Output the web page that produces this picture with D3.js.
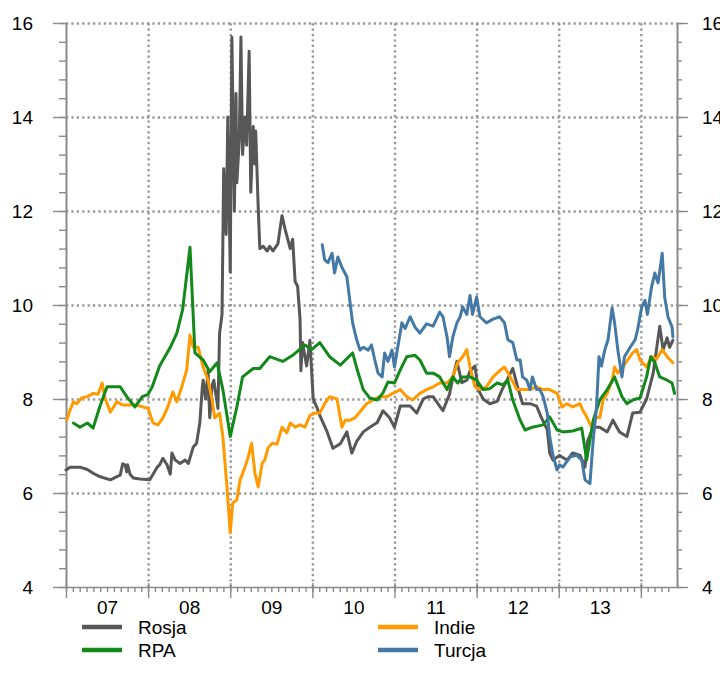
<!DOCTYPE html>
<html><head><meta charset="utf-8">
<script src="https://cdn.jsdelivr.net/npm/d3@7"></script>
<style>
body{margin:0;background:#fff;}
svg{display:block;font-family:"Liberation Sans",Arial,sans-serif;}
</style></head><body>
<svg id="c" width="720" height="680"></svg>
<script>
// ---- data ----
const yearLabels = ["07","08","09","10","11","12","13"];
const yTicks = [4,6,8,10,12,14,16];
const seriesNames = ["Rosja","RPA","Indie","Turcja"];
const seriesColors = ["#575757","#12891a","#ff9a00","#4479a6"];

const rosjaDates = [
2007.00,2007.05,2007.17,2007.26,2007.33,2007.41,2007.54,2007.62,2007.66,2007.69,
2007.72,2007.74,2007.75,2007.78,2007.82,2007.90,2008.02,2008.06,2008.11,2008.14,
2008.18,2008.23,2008.27,2008.29,2008.33,2008.39,2008.45,2008.49,2008.55,2008.59,
2008.63,2008.66,2008.67,2008.70,2008.73,2008.75,2008.78,2008.80,2008.85,2008.87,
2008.90,2008.92,2008.95,2008.97,2009.00,2009.02,2009.05,2009.07,2009.08,2009.11,
2009.13,2009.15,2009.18,2009.20,2009.23,2009.25,2009.28,2009.30,2009.31,2009.34,
2009.36,2009.40,2009.45,2009.48,2009.52,2009.58,2009.63,2009.67,2009.70,2009.73,
2009.76,2009.79,2009.82,2009.85,2009.86,2009.88,2009.93,2009.97,2010.01,2010.06,
2010.09,2010.18,2010.25,2010.34,2010.42,2010.48,2010.54,2010.62,2010.70,2010.79,
2010.86,2010.94,2011.00,2011.07,2011.19,2011.27,2011.35,2011.41,2011.47,2011.55,
2011.59,2011.67,2011.71,2011.76,2011.82,2011.88,2011.92,2011.98,2012.02,2012.08,
2012.16,2012.25,2012.31,2012.37,2012.44,2012.50,2012.56,2012.65,2012.73,2012.79,
2012.86,2012.89,2012.93,2013.01,2013.10,2013.17,2013.26,2013.32,2013.35,2013.42,
2013.50,2013.59,2013.66,2013.74,2013.83,2013.90,2013.99,2014.07,2014.15,2014.19,
2014.23,2014.27,2014.32,2014.35,2014.39];
const rosjaValues = [
6.49,6.55,6.55,6.50,6.42,6.35,6.28,6.35,6.38,6.62,
6.60,6.45,6.60,6.40,6.32,6.30,6.28,6.40,6.55,6.60,
6.74,6.60,6.40,6.85,6.70,6.63,6.70,6.63,6.98,7.06,
7.50,8.26,8.40,8.00,8.60,7.60,8.30,8.40,7.80,9.40,
9.80,12.90,11.50,14.00,10.70,15.70,12.00,14.50,12.60,13.50,
15.70,13.20,14.00,13.40,15.40,12.40,13.80,13.00,13.70,12.10,
11.20,11.25,11.15,11.25,11.15,11.30,11.90,11.60,11.40,11.20,
11.40,10.50,10.40,9.70,8.60,9.20,8.70,9.25,8.00,7.80,
7.65,7.30,6.95,7.05,7.30,6.85,7.10,7.30,7.40,7.50,
7.75,7.60,7.40,7.85,7.85,7.70,8.00,8.05,8.05,7.85,
7.75,8.10,8.45,8.80,8.35,8.40,8.60,8.70,8.20,8.00,
7.90,7.95,8.20,8.40,8.65,8.25,7.90,7.90,7.85,7.60,
7.35,6.85,6.70,6.80,6.70,6.85,6.80,6.55,7.10,7.40,
7.40,7.30,7.55,7.30,7.20,7.70,7.72,8.00,8.55,9.05,
9.55,9.05,9.30,9.10,9.25];

const rpaDates = [
2007.09,2007.17,2007.26,2007.33,2007.41,2007.50,2007.66,2007.74,2007.84,2007.93,
2008.00,2008.05,2008.14,2008.27,2008.35,2008.42,2008.51,2008.57,2008.67,2008.75,
2008.84,2008.91,2009.00,2009.08,2009.15,2009.28,2009.36,2009.48,2009.64,2009.76,
2009.91,2009.99,2010.09,2010.21,2010.34,2010.49,2010.55,2010.62,2010.70,2010.79,
2010.86,2010.92,2011.00,2011.07,2011.15,2011.25,2011.31,2011.39,2011.47,2011.55,
2011.64,2011.71,2011.77,2011.83,2011.92,2012.00,2012.08,2012.16,2012.25,2012.32,
2012.38,2012.44,2012.53,2012.59,2012.68,2012.81,2012.89,2012.98,2013.05,2013.17,
2013.28,2013.34,2013.42,2013.50,2013.59,2013.68,2013.77,2013.83,2013.90,2013.99,
2014.07,2014.12,2014.17,2014.23,2014.32,2014.38,2014.41];
const rpaValues = [
7.49,7.40,7.49,7.38,7.83,8.26,8.26,8.05,7.83,8.05,
8.10,8.26,8.70,9.10,9.40,9.90,11.23,8.98,8.83,8.58,
8.77,8.20,7.20,7.83,8.47,8.65,8.65,8.90,8.80,8.93,
9.15,9.05,9.20,8.90,8.72,8.98,8.60,8.20,8.02,7.98,
8.13,8.36,8.34,8.62,8.90,8.93,8.83,8.55,8.55,8.47,
8.20,8.47,8.34,8.47,8.47,8.40,8.20,8.22,8.34,8.30,
8.40,7.98,7.55,7.34,7.40,7.45,7.62,7.34,7.30,7.32,
7.38,6.70,7.55,7.98,8.20,8.47,8.05,7.90,7.98,8.02,
8.47,8.90,8.77,8.47,8.40,8.34,8.12];

const indieDates = [
2007.01,2007.05,2007.09,2007.13,2007.19,2007.26,2007.33,2007.39,2007.44,2007.47,
2007.54,2007.62,2007.69,2007.78,2007.86,2007.94,2008.00,2008.06,2008.12,2008.18,
2008.24,2008.30,2008.35,2008.41,2008.47,2008.51,2008.55,2008.61,2008.67,2008.73,
2008.78,2008.81,2008.87,2008.91,2008.96,2009.00,2009.03,2009.08,2009.12,2009.18,
2009.22,2009.26,2009.30,2009.34,2009.39,2009.42,2009.46,2009.51,2009.57,2009.63,
2009.69,2009.73,2009.79,2009.85,2009.91,2009.97,2010.03,2010.09,2010.15,2010.21,
2010.30,2010.36,2010.40,2010.46,2010.52,2010.60,2010.66,2010.74,2010.82,2010.91,
2010.98,2011.07,2011.15,2011.22,2011.31,2011.39,2011.47,2011.55,2011.64,2011.71,
2011.77,2011.83,2011.88,2011.92,2011.98,2012.04,2012.12,2012.20,2012.28,2012.34,
2012.40,2012.49,2012.56,2012.65,2012.73,2012.81,2012.89,2012.98,2013.04,2013.10,
2013.17,2013.26,2013.29,2013.34,2013.40,2013.46,2013.50,2013.54,2013.59,2013.65,
2013.68,2013.72,2013.78,2013.84,2013.90,2013.95,2013.99,2014.07,2014.13,2014.19,
2014.26,2014.32,2014.39];
const indieValues = [
7.55,7.77,7.94,7.90,8.02,8.05,8.12,8.10,8.34,8.05,
7.72,7.94,7.87,7.87,7.87,7.83,7.80,7.49,7.45,7.60,
7.83,8.15,7.94,8.26,8.62,9.36,9.10,9.10,8.68,8.40,
7.98,7.60,7.70,7.20,6.13,5.15,5.79,5.85,6.28,6.55,
6.77,7.06,6.43,6.13,6.64,6.70,6.96,7.06,7.04,7.40,
7.28,7.49,7.40,7.45,7.40,7.65,7.70,7.70,7.90,8.05,
8.00,7.40,7.55,7.55,7.60,7.77,7.90,7.98,8.05,8.05,
8.12,8.20,8.05,7.98,8.12,8.20,8.26,8.34,8.34,8.47,
8.77,8.90,9.05,8.68,8.26,8.20,8.26,8.47,8.60,8.68,
8.50,8.20,8.20,8.20,8.26,8.20,8.20,8.12,7.83,7.90,
7.83,7.90,7.77,7.62,7.40,7.62,7.60,7.98,8.12,8.40,
8.68,8.55,8.68,8.83,8.98,9.05,8.83,8.68,8.90,8.85,
9.05,8.90,8.77];

const turcjaDates = [
2010.12,2010.15,2010.19,2010.24,2010.27,2010.31,2010.36,2010.42,2010.46,2010.49,
2010.54,2010.58,2010.62,2010.68,2010.72,2010.76,2010.80,2010.85,2010.88,2010.92,
2010.97,2011.00,2011.04,2011.09,2011.13,2011.19,2011.25,2011.31,2011.39,2011.47,
2011.55,2011.59,2011.64,2011.67,2011.71,2011.76,2011.80,2011.83,2011.88,2011.92,
2011.95,2012.00,2012.04,2012.12,2012.20,2012.28,2012.34,2012.38,2012.44,2012.49,
2012.53,2012.56,2012.61,2012.65,2012.68,2012.73,2012.77,2012.81,2012.86,2012.89,
2012.93,2012.98,2013.01,2013.05,2013.14,2013.22,2013.28,2013.32,2013.38,2013.42,
2013.46,2013.49,2013.52,2013.56,2013.60,2013.65,2013.68,2013.72,2013.77,2013.80,
2013.87,2013.93,2013.96,2014.01,2014.05,2014.08,2014.13,2014.17,2014.21,2014.26,
2014.29,2014.33,2014.38,2014.39];
const turcjaValues = [
11.28,10.96,10.90,11.10,10.68,11.02,10.80,10.60,10.04,9.62,
9.26,9.04,9.10,9.04,9.15,8.83,8.55,8.47,8.98,8.80,
9.04,8.68,9.10,9.62,9.50,9.75,9.53,9.40,9.60,9.55,
9.85,9.75,9.32,8.90,9.32,9.62,9.75,9.96,9.80,10.20,
9.80,10.17,9.75,9.62,9.70,9.75,9.62,9.26,9.20,8.83,
8.83,8.47,8.40,8.20,8.47,8.20,8.20,8.05,7.70,7.20,
6.80,6.49,6.60,6.55,6.77,6.80,6.70,6.28,6.20,7.13,
7.83,8.90,8.70,9.04,9.26,9.94,9.62,9.04,8.47,8.90,
9.10,9.26,9.47,9.96,10.10,9.80,10.38,10.68,10.47,11.10,
10.17,9.75,9.53,9.32];

// ---- chart ----
const svg = d3.select("#c");
const L = 66, R = 677, T = 23, B = 587;
const x = d3.scaleLinear().domain([2007, 2014.44]).range([L, R]);
const y = d3.scaleLinear().domain([4, 16]).range([B, T]);
const FS = 19;
const axisColor = "#8a8a8a";

// grid
const gridStyle = g => {
  g.select(".domain").remove();
  g.selectAll(".tick text").remove();
  g.selectAll(".tick line").attr("stroke","#969696").attr("stroke-width",2.4)
    .attr("stroke-dasharray","2.2,3.2");
};
svg.append("g").attr("transform",`translate(${L},0)`)
  .call(d3.axisLeft(y).tickValues(yTicks.filter(v=>v>4)).tickSize(-(R-L)))
  .call(gridStyle);
const years = d3.range(2008, 2015);
svg.append("g").attr("transform",`translate(0,${B})`)
  .call(d3.axisBottom(x).tickValues(years).tickSize(-(B-T)))
  .call(gridStyle);

// axes
const axStyle = g => {
  g.selectAll(".domain").attr("stroke",axisColor).attr("stroke-width",1.6);
  g.selectAll(".tick line").attr("stroke",axisColor).attr("stroke-width",1.4);
  g.selectAll(".tick text").attr("fill","#000").attr("font-size",FS).attr("font-family",'"Liberation Sans",Arial,sans-serif');
};
const minorY = d3.range(4, 16.001, 0.4).map(v=>+v.toFixed(1));
svg.append("g").attr("transform",`translate(${L},0)`)
  .call(d3.axisLeft(y).tickValues(minorY).tickSize(7).tickSizeOuter(0).tickFormat(""))
  .call(axStyle);
svg.append("g").attr("transform",`translate(${L},0)`)
  .call(d3.axisLeft(y).tickValues(yTicks).tickSize(13).tickSizeOuter(0).tickPadding(20).tickFormat(d3.format("d")))
  .call(axStyle);
svg.append("g").attr("transform",`translate(${R},0)`)
  .call(d3.axisRight(y).tickValues(minorY).tickSize(5).tickSizeOuter(0).tickFormat(""))
  .call(axStyle);
svg.append("g").attr("transform",`translate(${R},0)`)
  .call(d3.axisRight(y).tickValues(yTicks).tickSize(11).tickSizeOuter(0).tickPadding(14).tickFormat(d3.format("d")))
  .call(axStyle);

const months = d3.range(0, 89).map(i => 2007 + i/12).filter(v => v <= 2014.44);
svg.append("g").attr("transform",`translate(0,${B})`)
  .call(d3.axisBottom(x).tickValues(months).tickSize(5).tickSizeOuter(0).tickFormat(""))
  .call(axStyle);
svg.append("g").attr("transform",`translate(0,${B-4})`)
  .call(d3.axisBottom(x).tickValues(d3.range(2007,2015)).tickSize(15).tickFormat(""))
  .call(axStyle).call(g=>g.select(".domain").remove());
svg.append("g").attr("transform",`translate(0,${B})`)
  .call(d3.axisBottom(x).tickValues(yearLabels.map((d,i)=>2007.5+i)).tickSize(0).tickPadding(14)
        .tickFormat((d,i)=>yearLabels[i]))
  .call(axStyle).call(g=>g.select(".domain").remove());

// lines
const series = [
  {name:"Rosja", dates:rosjaDates, values:rosjaValues, color:seriesColors[0]},
  {name:"Indie", dates:indieDates, values:indieValues, color:seriesColors[2]},
  {name:"RPA", dates:rpaDates, values:rpaValues, color:seriesColors[1]},
  {name:"Turcja", dates:turcjaDates, values:turcjaValues, color:seriesColors[3]}
];
const line = d3.line().x(d=>x(d[0])).y(d=>y(d[1]));
series.forEach(s=>{
  const pts = s.dates.map((d,i)=>[d, s.values[i]]);
  svg.append("path").datum(pts).attr("d", line)
    .attr("fill","none").attr("stroke",s.color).attr("stroke-width",3)
    .attr("stroke-linejoin","round").attr("stroke-linecap","round");
});

// legend
const legendPos = [[82,627],[82,650],[378,627],[378,650]];
seriesNames.forEach((n,i)=>{
  const [lx,ly] = legendPos[i];
  svg.append("line").attr("x1",lx).attr("x2",lx+40).attr("y1",ly).attr("y2",ly)
    .attr("stroke",seriesColors[i]).attr("stroke-width",4.5);
  svg.append("text").attr("x",lx+56).attr("y",ly).attr("dy","0.35em")
    .attr("font-size",FS).attr("fill","#000").text(n);
});
</script>
</body></html>
